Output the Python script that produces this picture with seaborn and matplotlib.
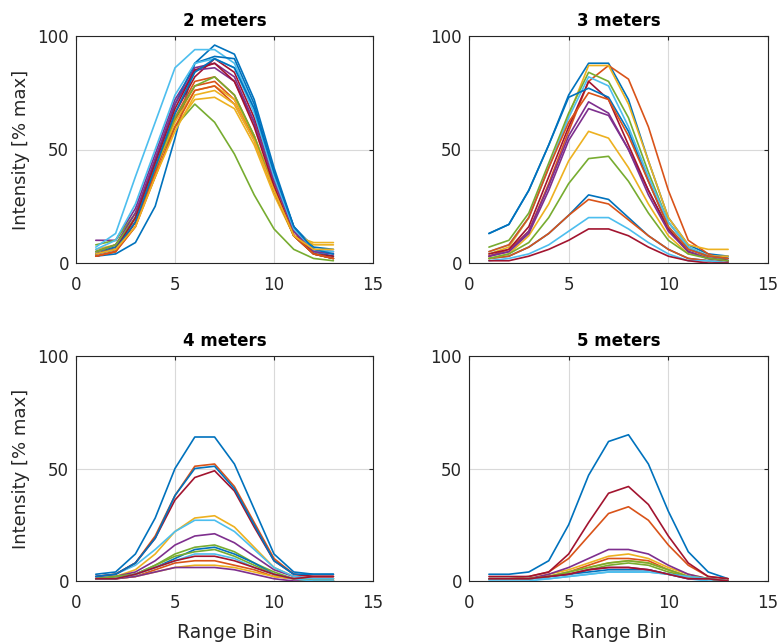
import numpy as np
import pandas as pd
import matplotlib
matplotlib.use("Agg")
import matplotlib.pyplot as plt
import seaborn as sns

bins = list(range(1, 14))
titles = ["2 meters", "3 meters", "4 meters", "5 meters"]

m2 = [
    [3, 4, 9, 25, 55, 88, 96, 92, 72, 42, 16, 5, 3],
    [4, 7, 18, 40, 63, 78, 80, 72, 55, 32, 12, 4, 2],
    [6, 8, 18, 38, 60, 72, 73, 68, 52, 30, 12, 9, 9],
    [10, 10, 24, 48, 72, 86, 88, 82, 62, 36, 14, 6, 5],
    [8, 10, 22, 42, 60, 70, 62, 48, 30, 15, 6, 2, 1],
    [7, 13, 38, 62, 86, 94, 94, 88, 68, 38, 15, 5, 4],
    [3, 5, 18, 42, 66, 82, 90, 84, 64, 38, 14, 4, 3],
    [5, 7, 20, 45, 70, 88, 91, 90, 70, 40, 16, 7, 6],
    [3, 5, 16, 40, 64, 80, 82, 74, 56, 32, 12, 4, 2],
    [5, 8, 20, 42, 62, 76, 78, 72, 56, 34, 14, 8, 8],
    [5, 8, 22, 46, 70, 85, 86, 80, 62, 36, 14, 5, 4],
    [5, 8, 20, 42, 64, 78, 82, 74, 56, 32, 12, 4, 2],
    [6, 10, 26, 50, 74, 88, 90, 86, 66, 38, 15, 6, 5],
    [4, 6, 20, 44, 68, 85, 88, 80, 60, 34, 12, 4, 2],
    [4, 6, 18, 42, 66, 84, 90, 86, 68, 40, 16, 6, 4],
    [3, 5, 16, 38, 60, 76, 78, 70, 54, 32, 12, 4, 2],
    [4, 6, 16, 38, 58, 74, 76, 70, 54, 32, 12, 6, 6],
]

m3 = [
    [13, 17, 32, 52, 74, 88, 88, 72, 45, 20, 8, 4, 3],
    [3, 6, 14, 35, 58, 80, 87, 81, 60, 32, 10, 4, 1],
    [4, 7, 20, 42, 65, 87, 87, 70, 45, 20, 8, 6, 6],
    [3, 5, 14, 34, 56, 71, 66, 50, 32, 15, 5, 2, 1],
    [7, 10, 22, 44, 66, 84, 80, 64, 40, 18, 7, 3, 2],
    [5, 8, 20, 42, 64, 82, 78, 60, 38, 18, 7, 3, 2],
    [4, 6, 16, 38, 60, 80, 72, 52, 32, 15, 5, 2, 1],
    [2, 3, 7, 13, 21, 30, 28, 20, 12, 6, 2, 1, 0],
    [2, 3, 7, 13, 21, 28, 26, 19, 12, 6, 2, 1, 0],
    [2, 4, 12, 26, 45, 58, 55, 42, 26, 12, 4, 3, 3],
    [3, 5, 13, 32, 54, 68, 65, 50, 30, 14, 5, 2, 1],
    [2, 4, 9, 20, 35, 46, 47, 36, 22, 10, 4, 2, 1],
    [1, 2, 4, 8, 14, 20, 20, 15, 9, 4, 1, 1, 0],
    [1, 1, 3, 6, 10, 15, 15, 12, 7, 3, 1, 0, 0],
    [13, 17, 32, 52, 73, 77, 73, 58, 36, 16, 6, 3, 2],
    [5, 8, 20, 42, 62, 75, 72, 56, 36, 16, 6, 3, 2],
]

m4 = [
    [3, 4, 12, 28, 50, 64, 64, 52, 32, 12, 4, 3, 3],
    [2, 3, 8, 20, 38, 51, 52, 42, 26, 10, 3, 2, 2],
    [1, 2, 5, 12, 22, 28, 29, 24, 15, 6, 2, 1, 1],
    [1, 2, 4, 9, 16, 20, 21, 17, 11, 5, 2, 1, 1],
    [1, 2, 3, 7, 12, 15, 16, 13, 8, 4, 1, 1, 1],
    [2, 3, 7, 14, 22, 27, 27, 22, 14, 6, 2, 1, 1],
    [2, 3, 8, 19, 36, 46, 49, 40, 24, 9, 3, 2, 2],
    [1, 1, 3, 6, 10, 14, 15, 12, 8, 3, 1, 0, 0],
    [1, 1, 2, 5, 8, 9, 9, 7, 5, 2, 1, 0, 0],
    [1, 1, 2, 4, 6, 7, 7, 6, 4, 2, 1, 0, 0],
    [1, 1, 2, 4, 6, 6, 6, 5, 3, 1, 0, 0, 0],
    [1, 2, 3, 7, 11, 13, 14, 11, 7, 3, 1, 0, 0],
    [1, 1, 3, 6, 9, 12, 12, 10, 6, 3, 1, 0, 0],
    [1, 1, 3, 6, 9, 11, 11, 9, 6, 3, 1, 2, 2],
    [2, 3, 8, 19, 38, 50, 51, 41, 25, 9, 3, 3, 3],
]

m5 = [
    [3, 3, 4, 9, 25, 47, 62, 65, 52, 31, 13, 4, 1],
    [1, 1, 2, 4, 10, 20, 30, 33, 27, 16, 7, 2, 1],
    [1, 1, 1, 3, 5, 8, 11, 12, 10, 6, 3, 1, 0],
    [1, 1, 1, 3, 6, 10, 14, 14, 12, 7, 3, 1, 0],
    [1, 1, 1, 2, 3, 5, 7, 8, 7, 4, 2, 1, 0],
    [0, 0, 0, 1, 2, 3, 4, 4, 4, 3, 1, 0, 0],
    [2, 2, 2, 4, 12, 26, 39, 42, 34, 20, 8, 2, 1],
    [1, 1, 1, 2, 3, 4, 5, 5, 5, 3, 2, 1, 0],
    [1, 1, 1, 2, 4, 7, 10, 10, 9, 5, 2, 1, 0],
    [1, 1, 1, 2, 4, 6, 8, 9, 8, 5, 2, 1, 0],
    [1, 1, 1, 2, 3, 5, 6, 6, 5, 3, 1, 1, 0],
    [1, 1, 1, 2, 4, 6, 8, 9, 8, 5, 2, 1, 0],
    [1, 1, 1, 1, 2, 3, 4, 4, 4, 3, 2, 1, 0],
    [1, 1, 1, 2, 3, 5, 6, 6, 5, 3, 1, 1, 0],
]

datasets = [m2, m3, m4, m5]
matlab_colors = ["#0072BD", "#D95319", "#EDB120", "#7E2F8E",
                 "#77AC30", "#4DBEEE", "#A2142F"]

sns.set_style("white")
plt.rcParams['font.family'] = ['DejaVu Sans']

fig = plt.figure(figsize=(7.8, 6.44), dpi=100)
W, H = 780, 644
boxes = [(76, 36, 373, 263), (469, 36, 768, 263),
         (76, 356, 373, 581), (469, 356, 768, 581)]
txt = "#262626"
for i, (data, (l, t, r, b)) in enumerate(zip(datasets, boxes)):
    ax = fig.add_axes([l / W, 1 - b / H, (r - l) / W, (b - t) / H])
    rows = []
    for k, series in enumerate(data):
        for x, v in zip(bins, series):
            rows.append({"bin": x, "val": v, "line": k})
    df = pd.DataFrame(rows)
    pal = [matlab_colors[k % 7] for k in range(len(data))]
    sns.lineplot(data=df, x="bin", y="val", hue="line", palette=pal,
                 legend=False, ax=ax, linewidth=1.2, zorder=3)
    ax.set_xlim(0, 15)
    ax.set_ylim(0, 100)
    ax.set_xticks([0, 5, 10, 15])
    ax.set_yticks([0, 50, 100])
    ax.grid(True, color="#d9d9d9", linewidth=0.8, zorder=0)
    ax.tick_params(direction="in", length=3, colors=txt, labelsize=12,
                   top=True, right=True, labeltop=False, labelright=False)
    ax.tick_params(axis="x", pad=9)
    ax.tick_params(axis="y", pad=5)
    for s in ax.spines.values():
        s.set_color(txt)
        s.set_linewidth(0.8)
    ax.set_title(titles[i], fontsize=12, fontweight="bold", color="black", pad=7)
    ax.set_xlabel("Range Bin" if i >= 2 else "", fontsize=13.5, color=txt, labelpad=8)
    ax.set_ylabel("Intensity [% max]" if i % 2 == 0 else "", fontsize=13, color=txt, labelpad=5)

fig.savefig("out.png", dpi=100)
